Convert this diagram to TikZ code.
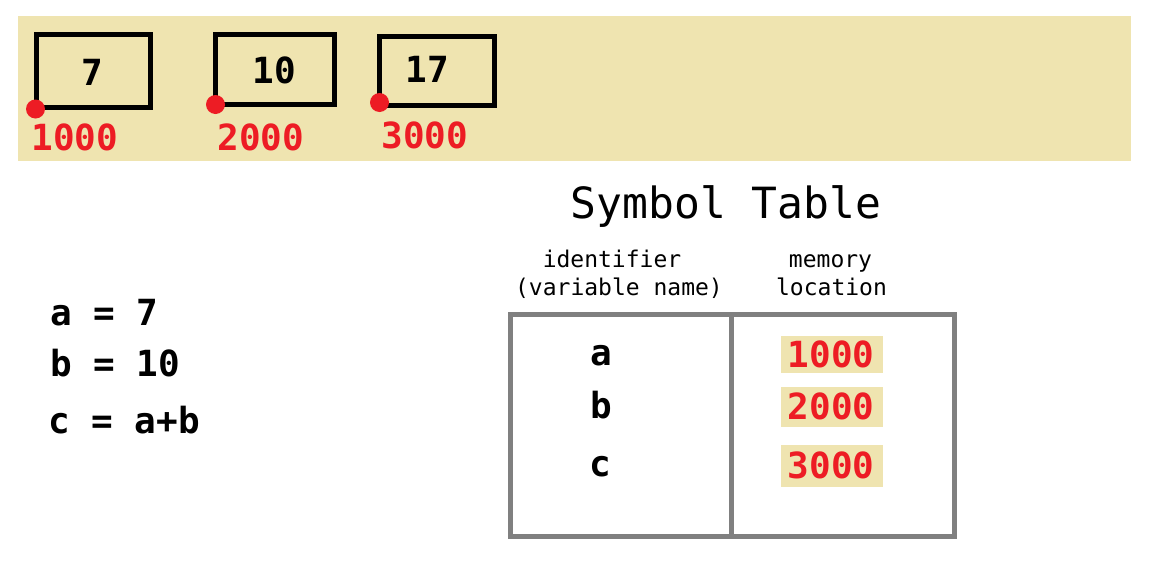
\documentclass[tikz,border=0pt]{standalone}
\usepackage{fontspec}
\newfontfamily\monof{DejaVu Sans Mono}
\definecolor{paintred}{RGB}{237,28,36}
\definecolor{beige}{RGB}{239,228,176}
\definecolor{tablegray}{RGB}{128,128,128}
\tikzset{
  membox/.style={draw=black, line width=5pt, inner sep=0pt},
  addrdot/.style={circle, fill=paintred, inner sep=0pt, minimum size=19pt},
  bignum/.style={font=\monof\bfseries\fontsize{36}{40}\selectfont, inner sep=0pt, anchor=base},
  rednum/.style={bignum, text=paintred},
  codeline/.style={font=\monof\bfseries\fontsize{36}{40}\selectfont, inner sep=0pt, anchor=base west},
  header/.style={font=\monof\fontsize{23}{26}\selectfont, inner sep=0pt, anchor=base},
  hilite/.style={fill=beige, draw=none, inner sep=0pt},
  tableline/.style={draw=tablegray, line width=4.5pt}
}
\begin{document}
\begin{tikzpicture}[x=1pt,y=-1pt]
\useasboundingbox (0,0) rectangle (1152,584);
% memory band
\fill[beige] (18,16) rectangle (1131,161);
% boxes
\node[membox, minimum width=114pt, minimum height=73pt] (box1) at (93.5,71) {};
\node[membox, minimum width=119pt, minimum height=70pt] (box2) at (275,69.5) {};
\node[membox, minimum width=115pt, minimum height=69pt] (box3) at (437,71) {};
\node[bignum] (v1) at (92.5,85) {7};
\node[bignum] (v2) at (274,83) {10};
\node[bignum] (v3) at (427,82) {17};
\node[addrdot] (d1) at (35.5,109) {};
\node[addrdot] (d2) at (215.5,104.5) {};
\node[addrdot] (d3) at (379.5,102.5) {};
\node[rednum] (m1) at (75,150) {1000};
\node[rednum] (m2) at (261,150) {2000};
\node[rednum] (m3) at (425,148) {3000};
% code
\node[codeline] (l1) at (50,325) {a = 7};
\node[codeline] (l2) at (50,376) {b = 10};
\node[codeline] (l3) at (48,433) {c = a+b};
% symbol table
\node[font=\monof\fontsize{43}{48}\selectfont, inner sep=0pt, anchor=base] (title) at (726,218) {Symbol Table};
\node[header] (h1a) at (612,267) {identifier};
\node[header] (h1b) at (619,295) {(variable name)};
\node[header] (h2a) at (830.5,267) {memory};
\node[header] (h2b) at (831.5,295) {location};
\node[draw=tablegray, line width=4.5pt, minimum width=444pt, minimum height=222pt, inner sep=0pt] (tbl) at (732.5,425.5) {};
\coordinate (divtop) at (731.5,314.5);
\coordinate (divbot) at (731.5,536.5);
\draw[tableline] (divtop) -- (divbot);
\node[hilite, minimum width=102pt, minimum height=37pt] (hl1) at (832,354.5) {};
\node[hilite, minimum width=102pt, minimum height=40pt] (hl2) at (832,407) {};
\node[hilite, minimum width=102pt, minimum height=42pt] (hl3) at (832,466) {};
\node[bignum] (s1) at (601,365) {a};
\node[bignum] (s2) at (601,418) {b};
\node[bignum] (s3) at (600,476) {c};
\node[rednum] (t1) at (831,367) {1000};
\node[rednum] (t2) at (831,419) {2000};
\node[rednum] (t3) at (831,478) {3000};
\end{tikzpicture}
\end{document}
